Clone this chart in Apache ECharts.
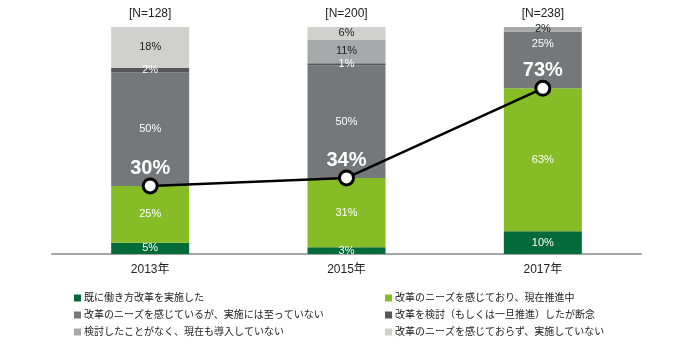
<!DOCTYPE html>
<html><head><meta charset="utf-8">
<script src="https://cdn.jsdelivr.net/npm/echarts@6/dist/echarts.min.js"></script>
<style>html,body{margin:0;padding:0;background:#fff}#c{width:700px;height:350px}</style>
</head><body><div id="c"></div>
<script>
const categories = ['2013年', '2015年', '2017年'];
const nLabels = ['[N=128]', '[N=200]', '[N=238]'];
const seriesNames = [
  '既に働き方改革を実施した',
  '改革のニーズを感じており、現在推進中',
  '改革のニーズを感じているが、実施には至っていない',
  '改革を検討（もしくは一旦推進）したが断念',
  '検討したことがなく、現在も導入していない',
  '改革のニーズを感じておらず、実施していない'
];
const implemented = [5, 3, 10];
const promoting = [25, 30.5, 63];
const notYet = [50, 49.5, 25];
const abandoned = [2, 1, null];
const neverConsidered = [null, 10.5, 2];
const noNeed = [18, 5.5, null];
const totalNeeds = [30, 33.5, 73];

const colors = ['#046a38', '#86bc25', '#75787b', '#53565a', '#a7a8aa', '#d0d0ce'];
const labelColors = ['#fff', '#fff', '#fff', '#fff', '#222', '#222'];
const values = [implemented, promoting, notYet, abandoned, neverConsidered, noNeed];
const font = '"Liberation Sans", Arial, "Noto Sans CJK JP", sans-serif';

const barSeries = values.map((v, i) => ({
  name: seriesNames[i],
  type: 'bar',
  stack: 'total',
  barWidth: 78,
  // the 2017 "25%" label sits near the top of its segment to leave room for the line label
  data: v.map((val, j) => (i === 2 && j === 2)
    ? { value: val, label: { position: 'insideTop', distance: 7 } }
    : val),
  itemStyle: { color: colors[i] },
  label: {
    show: true,
    position: 'inside',
    color: labelColors[i],
    fontSize: 11,
    fontFamily: font,
    formatter: p => (p.value == null || p.value === 0) ? '' : Math.round(p.value) + '%'
  }
}));

const chart = echarts.init(document.getElementById('c'));
chart.setOption({
  animation: false,
  textStyle: { fontFamily: font },
  grid: { left: 52, right: 59, top: 27, bottom: 96 },
  xAxis: [{
    type: 'category',
    data: categories,
    axisLine: { lineStyle: { color: '#a6a6a6', width: 2 } },
    axisTick: { show: false },
    axisLabel: { color: '#222', fontSize: 12, margin: 10, fontFamily: font }
  }, {
    type: 'category',
    position: 'top',
    data: nLabels,
    axisLine: { show: false },
    axisTick: { show: false },
    axisLabel: { color: '#222', fontSize: 12, margin: 7, fontFamily: font }
  }],
  yAxis: { type: 'value', min: 0, max: 100, show: false },
  legend: [{
    orient: 'vertical',
    left: 69,
    top: 288,
    itemWidth: 7,
    itemHeight: 7,
    itemGap: 7,
    icon: 'rect',
    data: [seriesNames[0], seriesNames[2], seriesNames[4]],
    textStyle: { fontSize: 10, color: '#222', fontFamily: font, padding: [0, 0, 0, -2] }
  }, {
    orient: 'vertical',
    left: 380,
    top: 288,
    itemWidth: 7,
    itemHeight: 7,
    itemGap: 7,
    icon: 'rect',
    data: [seriesNames[1], seriesNames[3], seriesNames[5]],
    textStyle: { fontSize: 10, color: '#222', fontFamily: font, padding: [0, 0, 0, -2] }
  }],
  series: barSeries.concat([{
    name: 'total',
    type: 'line',
    data: totalNeeds,
    z: 10,
    symbol: 'circle',
    symbolSize: 14,
    lineStyle: { color: '#000', width: 2.5 },
    itemStyle: { color: '#fff', borderColor: '#000', borderWidth: 3 },
    label: {
      show: true,
      position: 'top',
      distance: -1,
      color: '#fff',
      fontSize: 20,
      fontWeight: 'bold',
      fontFamily: font,
      formatter: p => Math.round(p.value) + '%'
    }
  }])
});
</script></body></html>
